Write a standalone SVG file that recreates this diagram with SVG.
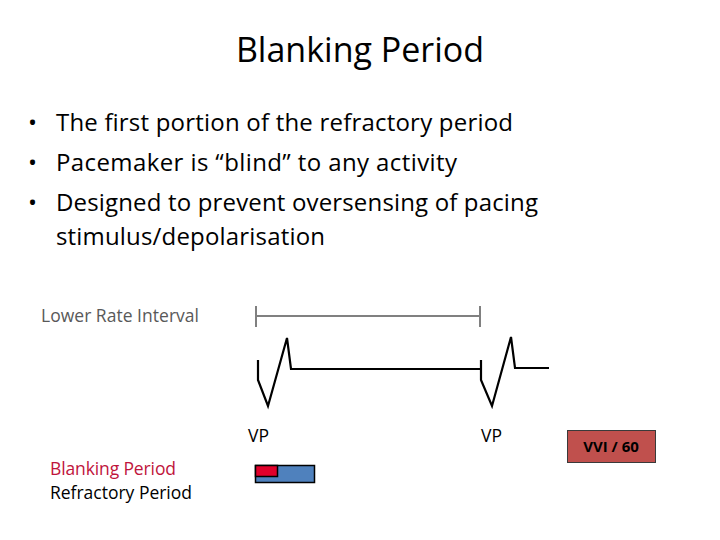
<svg xmlns="http://www.w3.org/2000/svg" width="720" height="540" viewBox="0 0 720 540">
<style>
text{font-family:"Open Sans","Liberation Sans",sans-serif;}
.b{font-size:24px;fill:#000}
.s{font-size:17.5px}
.w{fill:none;stroke:#000;stroke-width:2.2}
</style>
<rect width="720" height="540" fill="#fff"/>
<text x="360" y="62" text-anchor="middle" font-size="34">Blanking Period</text>
<g class="b">
<text x="28" y="131">•</text><text x="56" y="131" textLength="457">The first portion of the refractory period</text>
<text x="28" y="171">•</text><text x="56" y="171" textLength="401">Pacemaker is “blind” to any activity</text>
<text x="28" y="211">•</text><text x="56" y="211" textLength="482">Designed to prevent oversensing of pacing</text>
<text x="56" y="245" textLength="269">stimulus/depolarisation</text>
</g>
<text x="41" y="322" class="s" fill="#595959" textLength="158">Lower Rate Interval</text>
<g id="connectors">
<path d="M256,316H480M256,306V327M480,306V327" stroke="#808080" stroke-width="2" fill="none"/>
<path class="w" d="M258,360V380L268,406L287,338L291,369H481"/>
<path class="w" d="M481,360V380L492,406L511,337L515,368H549"/>
</g>
<text x="248" y="442" class="s">VP</text>
<text x="481" y="442" class="s">VP</text>
<text x="50" y="475" class="s" fill="#c0143c" textLength="126">Blanking Period</text>
<text x="50" y="499" class="s" textLength="142">Refractory Period</text>
<g id="bars">
<rect x="255.5" y="465.5" width="59" height="17" fill="#4f81bd" stroke="#000" stroke-width="1.5"/>
<rect x="255.5" y="465.5" width="22" height="11" fill="#e0002a" stroke="#000" stroke-width="1.5"/>
</g>
<g id="vvi">
<rect x="567.5" y="430.5" width="88" height="32" fill="#c0504d" stroke="#3a3a3a"/>
<text x="611" y="452" text-anchor="middle" font-size="15" font-weight="bold">VVI / 60</text>
</g>
</svg>
